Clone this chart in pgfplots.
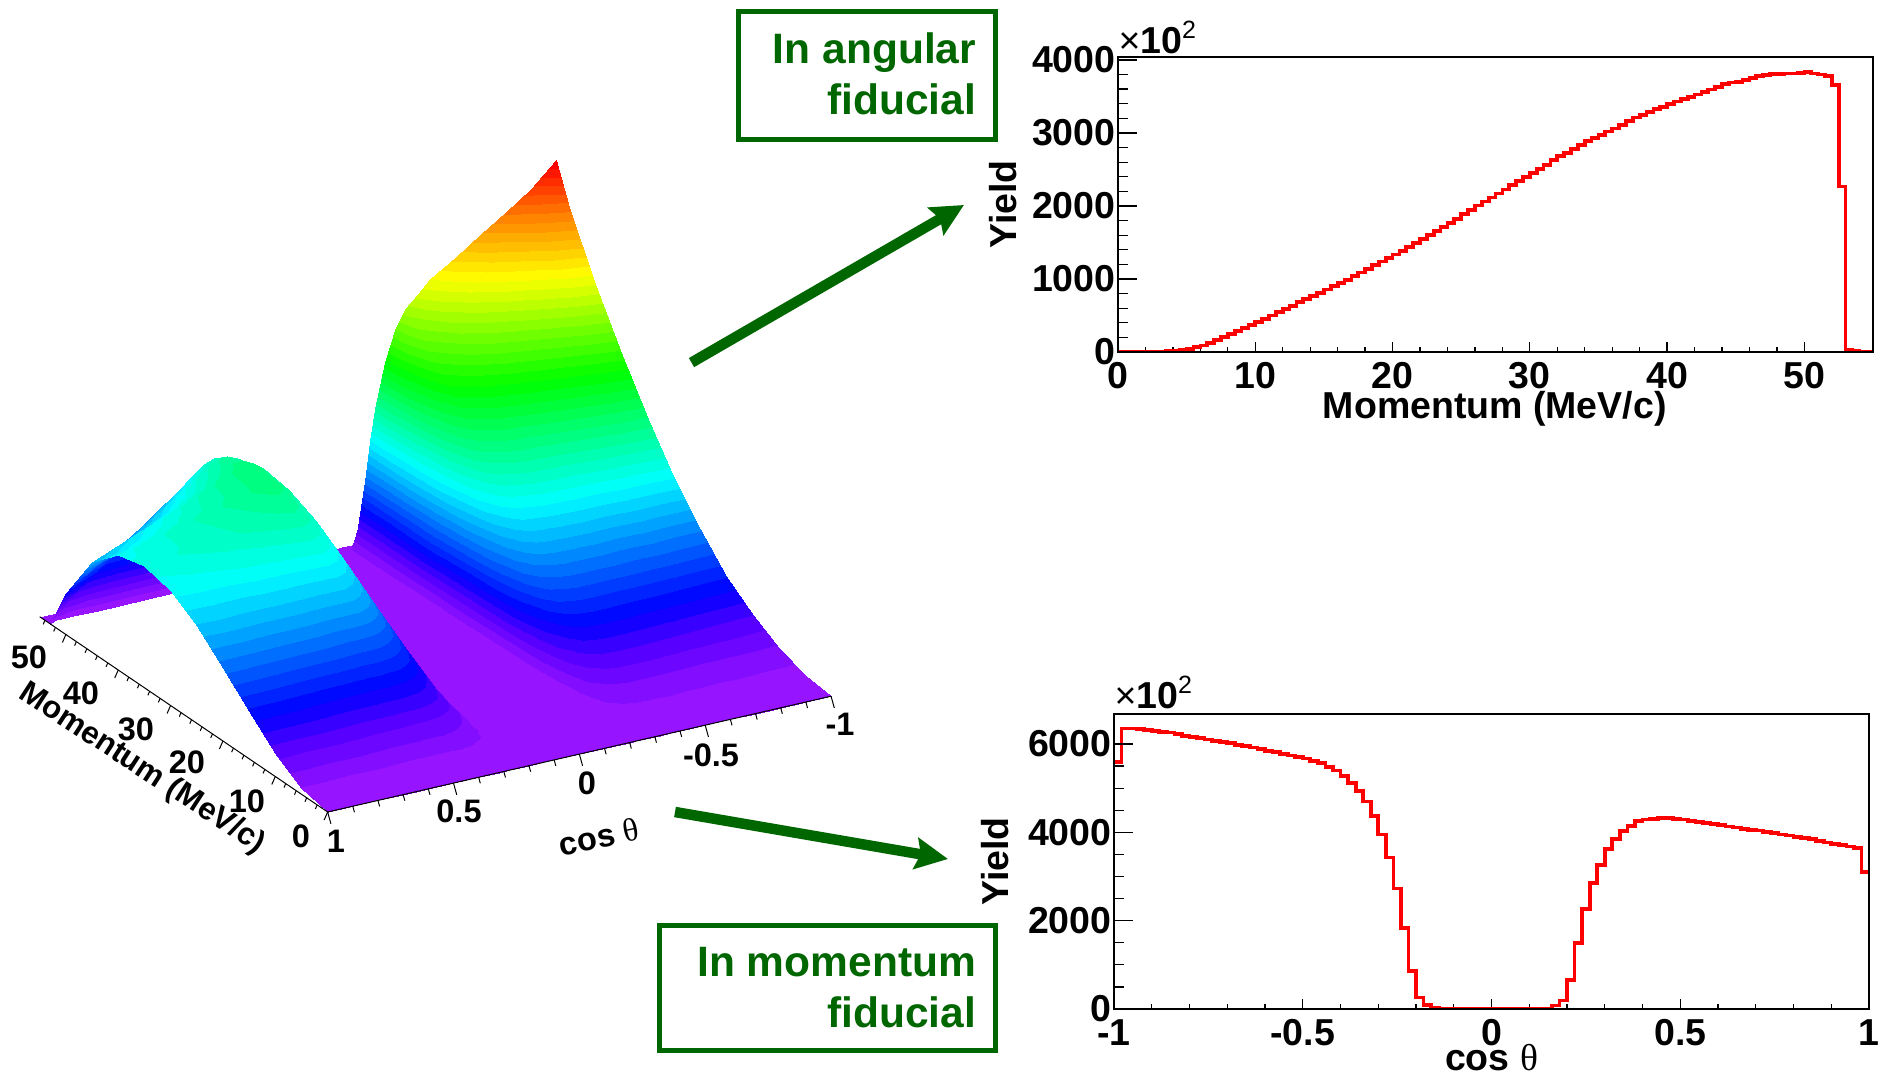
\documentclass[border=0pt]{standalone}
\usepackage{pgfplots}
\usepackage{fontspec}
\setmainfont{Liberation Sans}
\newfontfamily\greekf{Liberation Serif}
\pgfplotsset{compat=1.18}
\usetikzlibrary{arrows.meta}
\definecolor{dgreen}{RGB}{0,102,0}
\pgfplotsset{
 colormap={rootpal}{rgb255(0)=(150,20,255) rgb255(60)=(90,0,255) rgb255(115)=(0,0,255) rgb255(320)=(0,255,255) rgb255(540)=(0,255,0) rgb255(750)=(255,255,0) rgb255(870)=(255,140,0) rgb255(1000)=(255,0,0)},
 colormap={rootbands}{samples of colormap=(50 of rootpal)},
 hist/.style={scale only axis,width=302pt,height=118pt,axis line style={black,line width=.5pt},
  tick style={black,line width=.5pt},tick align=inside,xtick pos=bottom,ytick pos=left,
  tick label style={font=\bfseries\fontsize{15}{15}\selectfont,inner sep=0pt},
  xticklabel style={yshift=-4pt},yticklabel style={xshift=-.8pt},
  label style={font=\bfseries\fontsize{15}{15}\selectfont,inner sep=0pt},
  clip mode=individual},
}
\begin{document}
\begin{tikzpicture}
\path[use as bounding box,x=.4pt,y=-.4pt] (0,0) rectangle (1889,1077);
% ---------- 3D surface
\begin{axis}[anchor=origin,at={(231.74pt,-301.64pt)},
 x={(-100.68pt,-23.16pt)},y={(-2.094pt,1.42pt)},z={(0pt,.14pt)},
 axis lines=none,clip=false,
 xmin=-1,xmax=1,ymin=0,ymax=55,zmin=0,zmax=1000,
 colormap name=rootbands,colormap access=piecewise constant,
 point meta min=0,point meta max=1000]
\addplot3[surf,shader=interp,z buffer=none,mesh/ordering=x varies,mesh/rows=15,mesh/cols=33] table[x=c,y=p,z=z]{
c p z
-1 55 0
-0.9 55 0
-0.8 55 0
-0.7 55 0
-0.6 55 0
-0.5 55 0
-0.45 55 0
-0.4 55 0
-0.36 55 0
-0.32 55 0
-0.28 55 0
-0.26 55 0
-0.24 55 0
-0.22 55 0
-0.2 55 0
-0.16 55 0
0 55 0
0.16 55 0
0.2 55 0
0.22 55 0
0.24 55 0
0.26 55 0
0.28 55 0
0.32 55 0
0.36 55 0
0.4 55 0
0.45 55 0
0.5 55 0
0.6 55 0
0.7 55 0
0.8 55 0
0.9 55 0
1 55 0
-1 53.5 0
-0.9 53.5 0
-0.8 53.5 0
-0.7 53.5 0
-0.6 53.5 0
-0.5 53.5 0
-0.45 53.5 0
-0.4 53.5 0
-0.36 53.5 0
-0.32 53.5 0
-0.28 53.5 0
-0.26 53.5 0
-0.24 53.5 0
-0.22 53.5 0
-0.2 53.5 0
-0.16 53.5 0
0 53.5 0
0.16 53.5 0
0.2 53.5 0
0.22 53.5 0
0.24 53.5 0
0.26 53.5 0
0.28 53.5 0
0.32 53.5 0
0.36 53.5 0
0.4 53.5 0
0.45 53.5 0
0.5 53.5 0
0.6 53.5 0
0.7 53.5 0
0.8 53.5 0
0.9 53.5 0
1 53.5 0
-1 53 600
-0.9 53 570
-0.8 53 540
-0.7 53 510
-0.6 53 480
-0.5 53 450
-0.45 53 431
-0.4 53 407
-0.36 53 375
-0.32 53 325
-0.28 53 246
-0.26 53 193
-0.24 53 126
-0.22 53 59
-0.2 53 18
-0.16 53 0
0 53 0
0.16 53 0
0.2 53 34
0.22 53 83
0.24 53 135
0.26 53 173
0.28 53 194
0.32 53 217
0.36 53 220
0.4 53 212
0.45 53 195
0.5 53 177
0.6 53 142
0.7 53 106
0.8 53 71
0.9 53 35
1 53 0
-1 52.5 1000
-0.9 52.5 933
-0.8 52.5 885
-0.7 52.5 837
-0.6 52.5 789
-0.5 52.5 741
-0.45 52.5 709
-0.4 52.5 672
-0.36 52.5 619
-0.32 52.5 536
-0.28 52.5 406
-0.26 52.5 319
-0.24 52.5 209
-0.22 52.5 97
-0.2 52.5 30
-0.16 52.5 0
0 52.5 0
0.16 52.5 0
0.2 52.5 57
0.22 52.5 140
0.24 52.5 227
0.26 52.5 292
0.28 52.5 328
0.32 52.5 367
0.36 52.5 374
0.4 52.5 363
0.45 52.5 334
0.5 52.5 306
0.6 52.5 249
0.7 52.5 192
0.8 52.5 136
0.9 52.5 79
1 52.5 22
-1 50 890
-0.9 50 851
-0.8 50 811
-0.7 50 772
-0.6 50 732
-0.5 50 693
-0.45 50 666
-0.4 50 634
-0.36 50 586
-0.32 50 510
-0.28 50 388
-0.26 50 305
-0.24 50 201
-0.22 50 93
-0.2 50 29
-0.16 50 0
0 50 0
0.16 50 0
0.2 50 59
0.22 50 145
0.24 50 236
0.26 50 306
0.28 50 345
0.32 50 392
0.36 50 404
0.4 50 398
0.45 50 375
0.5 50 352
0.6 50 305
0.7 50 258
0.8 50 212
0.9 50 165
1 50 119
-1 45 721
-0.9 45 696
-0.8 45 671
-0.7 45 645
-0.6 45 620
-0.5 45 595
-0.45 45 577
-0.4 45 553
-0.36 45 515
-0.32 45 451
-0.28 45 345
-0.26 45 273
-0.24 45 180
-0.22 45 84
-0.2 45 26
-0.16 45 0
0 45 0
0.16 45 0
0.2 45 59
0.22 45 147
0.24 45 241
0.26 45 315
0.28 45 358
0.32 45 413
0.36 45 434
0.4 45 435
0.45 45 420
0.5 45 405
0.6 45 376
0.7 45 346
0.8 45 316
0.9 45 287
1 45 257
-1 40 570
-0.9 40 555
-0.8 40 541
-0.7 40 526
-0.6 40 512
-0.5 40 497
-0.45 40 485
-0.4 40 468
-0.36 40 439
-0.32 40 386
-0.28 40 298
-0.26 40 236
-0.24 40 156
-0.22 40 73
-0.2 40 23
-0.16 40 0
0 40 0
0.16 40 0
0.2 40 56
0.22 40 139
0.24 40 230
0.26 40 301
0.28 40 344
0.32 40 402
0.36 40 426
0.4 40 433
0.45 40 424
0.5 40 416
0.6 40 398
0.7 40 381
0.8 40 364
0.9 40 347
1 40 330
-1 35 436
-0.9 35 429
-0.8 35 422
-0.7 35 415
-0.6 35 408
-0.5 35 401
-0.45 35 394
-0.4 35 382
-0.36 35 360
-0.32 35 319
-0.28 35 247
-0.26 35 196
-0.24 35 130
-0.22 35 61
-0.2 35 19
-0.16 35 0
0 35 0
0.16 35 0
0.2 35 50
0.22 35 124
0.24 35 206
0.26 35 271
0.28 35 311
0.32 35 365
0.36 35 390
0.4 35 399
0.45 35 395
0.5 35 391
0.6 35 382
0.7 35 374
0.8 35 366
0.9 35 358
1 35 349
-1 30 320
-0.9 30 318
-0.8 30 316
-0.7 30 314
-0.6 30 312
-0.5 30 310
-0.45 30 306
-0.4 30 299
-0.36 30 282
-0.32 30 251
-0.28 30 195
-0.26 30 155
-0.24 30 104
-0.22 30 49
-0.2 30 15
-0.16 30 0
0 30 0
0.16 30 0
0.2 30 42
0.22 30 104
0.24 30 174
0.26 30 229
0.28 30 263
0.32 30 311
0.36 30 334
0.4 30 343
0.45 30 342
0.5 30 341
0.6 30 338
0.7 30 336
0.8 30 333
0.9 30 331
1 30 328
-1 25 223
-0.9 25 223
-0.8 25 224
-0.7 25 224
-0.6 25 225
-0.5 25 226
-0.45 25 224
-0.4 25 220
-0.36 25 208
-0.32 25 186
-0.28 25 145
-0.26 25 116
-0.24 25 77
-0.22 25 36
-0.2 25 11
-0.16 25 0
0 25 0
0.16 25 0
0.2 25 33
0.22 25 82
0.24 25 136
0.26 25 180
0.28 25 207
0.32 25 245
0.36 25 265
0.4 25 273
0.45 25 273
0.5 25 274
0.6 25 275
0.7 25 275
0.8 25 276
0.9 25 277
1 25 277
-1 20 142
-0.9 20 144
-0.8 20 146
-0.7 20 148
-0.6 20 149
-0.5 20 151
-0.45 20 151
-0.4 20 148
-0.36 20 141
-0.32 20 126
-0.28 20 99
-0.26 20 79
-0.24 20 53
-0.22 20 25
-0.2 20 8
-0.16 20 0
0 20 0
0.16 20 0
0.2 20 23
0.22 20 58
0.24 20 97
0.26 20 128
0.28 20 148
0.32 20 176
0.36 20 190
0.4 20 197
0.45 20 198
0.5 20 199
0.6 20 201
0.7 20 203
0.8 20 205
0.9 20 207
1 20 209
-1 15 80
-0.9 15 82
-0.8 15 84
-0.7 15 85
-0.6 15 87
-0.5 15 89
-0.45 15 89
-0.4 15 88
-0.36 15 84
-0.32 15 75
-0.28 15 59
-0.26 15 47
-0.24 15 32
-0.22 15 15
-0.2 15 5
-0.16 15 0
0 15 0
0.16 15 0
0.2 15 14
0.22 15 36
0.24 15 60
0.26 15 80
0.28 15 92
0.32 15 110
0.36 15 119
0.4 15 123
0.45 15 124
0.5 15 125
0.6 15 127
0.7 15 129
0.8 15 132
0.9 15 134
1 15 136
-1 10 36
-0.9 10 37
-0.8 10 38
-0.7 10 39
-0.6 10 40
-0.5 10 41
-0.45 10 41
-0.4 10 41
-0.36 10 39
-0.32 10 35
-0.28 10 28
-0.26 10 22
-0.24 10 15
-0.22 10 7
-0.2 10 2
-0.16 10 0
0 10 0
0.16 10 0
0.2 10 7
0.22 10 17
0.24 10 29
0.26 10 39
0.28 10 45
0.32 10 53
0.36 10 58
0.4 10 60
0.45 10 61
0.5 10 62
0.6 10 63
0.7 10 64
0.8 10 66
0.9 10 67
1 10 68
-1 5 9
-0.9 5 9
-0.8 5 10
-0.7 5 10
-0.6 5 10
-0.5 5 11
-0.45 5 11
-0.4 5 11
-0.36 5 10
-0.32 5 9
-0.28 5 7
-0.26 5 6
-0.24 5 4
-0.22 5 2
-0.2 5 1
-0.16 5 0
0 5 0
0.16 5 0
0.2 5 2
0.22 5 5
0.24 5 8
0.26 5 10
0.28 5 12
0.32 5 15
0.36 5 16
0.4 5 16
0.45 5 17
0.5 5 17
0.6 5 17
0.7 5 18
0.8 5 18
0.9 5 19
1 5 19
-1 0 0
-0.9 0 0
-0.8 0 0
-0.7 0 0
-0.6 0 0
-0.5 0 0
-0.45 0 0
-0.4 0 0
-0.36 0 0
-0.32 0 0
-0.28 0 0
-0.26 0 0
-0.24 0 0
-0.22 0 0
-0.2 0 0
-0.16 0 0
0 0 0
0.16 0 0
0.2 0 0
0.22 0 0
0.24 0 0
0.26 0 0
0.28 0 0
0.32 0 0
0.36 0 0
0.4 0 0
0.45 0 0
0.5 0 0
0.6 0 0
0.7 0 0
0.8 0 0
0.9 0 0
1 0 0
};
\draw[black,line width=.4pt] (axis cs:1,0,0)--(axis cs:-1,0,0);
\draw[black,line width=.4pt] (axis cs:1,0,0)--(axis cs:1,55,0);
\pgfplotsinvokeforeach{-1,-0.5,0,0.5,1}{\draw[black,line width=.4pt] (axis cs:#1,0,0)--++(1.3pt,-4.7pt);}
\pgfplotsinvokeforeach{-0.9,-0.8,-0.7,-0.6,-0.4,-0.3,-0.2,-0.1,0.1,0.2,0.3,0.4,0.6,0.7,0.8,0.9}{\draw[black,line width=.4pt] (axis cs:#1,0,0)--++(.65pt,-2.4pt);}
\pgfplotsinvokeforeach{0,10,20,30,40,50}{\draw[black,line width=.4pt] (axis cs:1,#1,0)--++(-1.4pt,-3.2pt);}
\pgfplotsinvokeforeach{2,4,6,8,12,14,16,18,22,24,26,28,32,34,36,38,42,44,46,48,52,54}{\draw[black,line width=.4pt] (axis cs:1,#1,0)--++(-.7pt,-1.6pt);}
\end{axis}
\begin{scope}[x=.4pt,y=-.4pt,every node/.style={inner sep=0pt,font=\bfseries\fontsize{13}{13}\selectfont}]
\node at (29,657) {50};
\node at (81,693) {40};
\node at (136,729) {30};
\node at (187,762) {20};
\node at (247,801) {10};
\node at (301,836) {0};
\node at (336,841) {1};
\node at (459,811) {0.5};
\node at (587,783) {0};
\node at (711,755) {-0.5};
\node at (840,724) {-1};
\node[rotate=-33,font=\bfseries\fontsize{12.5}{12.5}\selectfont] at (142,769) {Momentum (MeV/c)};
\node[rotate=12] at (599,837) {cos {\greekf\mdseries θ}};
\end{scope}
% ---------- top histogram
\begin{axis}[hist,anchor=south west,at={(447.2pt,-140.8pt)},xmin=0,xmax=55,ymin=0,ymax=4040,
 xtick={0,10,20,30,40,50},xticklabels={0,10,20,30,40,50},minor x tick num=4,ytick=\empty,major tick length=4pt,minor tick length=2pt,
 xlabel={Momentum (MeV/c)},xlabel style={at={(axis description cs:.499,-.224)},anchor=base},
 ylabel={Yield},ylabel style={at={(axis description cs:-.134,.5)},anchor=base}]
\addplot[red,line width=1.5pt,const plot] coordinates {
(0,5)(0.5,5)(1,5)(1.5,5)(2,5)(2.5,5)(3,8)(3.5,10)(4,15)(4.5,25)(5,40)(5.5,65)(6,90)(6.5,125)(7,160)(7.5,205)(8,245)(8.5,285)(9,330)(9.5,370)
(10,415)(10.5,455)(11,500)(11.5,545)(12,590)(12.5,635)(13,680)(13.5,725)(14,770)(14.5,810)(15,855)(15.5,900)(16,945)(16.5,990)(17,1040)(17.5,1090)(18,1140)(18.5,1190)(19,1240)(19.5,1285)
(20,1335)(20.5,1385)(21,1440)(21.5,1495)(22,1550)(22.5,1600)(23,1655)(23.5,1710)(24,1765)(24.5,1825)(25,1885)(25.5,1945)(26,2005)(26.5,2060)(27,2115)(27.5,2170)(28,2225)(28.5,2285)(29,2340)(29.5,2395)
(30,2450)(30.5,2510)(31,2565)(31.5,2625)(32,2680)(32.5,2730)(33,2785)(33.5,2835)(34,2885)(34.5,2930)(35,2975)(35.5,3020)(36,3060)(36.5,3110)(37,3160)(37.5,3210)(38,3250)(38.5,3290)(39,3325)(39.5,3360)
(40,3395)(40.5,3430)(41,3460)(41.5,3495)(42,3525)(42.5,3560)(43,3595)(43.5,3630)(44,3665)(44.5,3690)(45,3700)(45.5,3725)(46,3750)(46.5,3775)(47,3790)(47.5,3805)(48,3810)(48.5,3815)(49,3815)(49.5,3825)
(50,3830)(50.5,3815)(51,3800)(51.5,3780)(52,3660)(52.5,2265)(53,30)(53.5,15)(54,5)(54.5,5)(55,5)};
\draw[black,line width=.9pt] (rel axis cs:0,1)--(rel axis cs:1,1);
\node[anchor=base west,inner sep=0pt,font=\fontsize{15}{15}\selectfont] at (axis description cs:0,1.012) {×\textbf{10}\raisebox{6pt}{\fontsize{10}{10}\selectfont 2}};
\end{axis}
\begin{axis}[hist,anchor=south west,at={(447.2pt,-140.8pt)},xmin=0,xmax=55,ymin=0,ymax=4040,
 ytick={0,1000,2000,3000,4000},yticklabels={0,1000,2000,3000,4000},minor y tick num=4,xtick=\empty,major tick length=7.6pt,minor tick length=3.8pt]
\end{axis}
% ---------- bottom histogram
\begin{axis}[hist,anchor=south west,at={(445.6pt,-403.6pt)},xmin=-1,xmax=1,ymin=0,ymax=6680,
 xtick={-1,-0.5,0,0.5,1},xticklabels={-1,-0.5,0,0.5,1},minor x tick num=4,ytick=\empty,major tick length=4pt,minor tick length=2pt,
 xlabel={cos {\greekf\mdseries θ}},xlabel style={at={(axis description cs:.5,-.207)},anchor=base},
 ylabel={Yield},ylabel style={at={(axis description cs:-.14,.5)},anchor=base}]
\addplot[red,line width=1.5pt,const plot] coordinates {
(-1,5600)(-0.98,6350)(-0.96,6350)(-0.94,6340)(-0.92,6310)(-0.90,6300)(-0.88,6280)(-0.86,6260)(-0.84,6230)(-0.82,6190)
(-0.80,6160)(-0.78,6130)(-0.76,6100)(-0.74,6070)(-0.72,6050)(-0.70,6020)(-0.68,5980)(-0.66,5950)(-0.64,5920)(-0.62,5890)
(-0.60,5850)(-0.58,5820)(-0.56,5780)(-0.54,5740)(-0.52,5700)(-0.50,5670)(-0.48,5620)(-0.46,5570)(-0.44,5480)(-0.42,5400)
(-0.40,5275)(-0.38,5120)(-0.36,4930)(-0.34,4700)(-0.32,4370)(-0.30,3950)(-0.28,3430)(-0.26,2730)(-0.24,1830)(-0.22,860)
(-0.20,260)(-0.18,90)(-0.16,15)(-0.14,5)(-0.12,0)(-0.10,0)(-0.08,0)(-0.06,0)(-0.04,0)(-0.02,0)
(0,0)(0.02,0)(0.04,0)(0.06,0)(0.08,0)(0.10,5)(0.12,5)(0.14,10)(0.16,80)(0.18,195)
(0.20,660)(0.22,1490)(0.24,2270)(0.26,2850)(0.28,3260)(0.30,3625)(0.32,3850)(0.34,4030)(0.36,4150)(0.38,4250)
(0.40,4290)(0.42,4310)(0.44,4320)(0.46,4320)(0.48,4310)(0.50,4290)(0.52,4250)(0.54,4240)(0.56,4220)(0.58,4190)
(0.60,4160)(0.62,4130)(0.64,4110)(0.66,4070)(0.68,4060)(0.70,4040)(0.72,4010)(0.74,3990)(0.76,3950)(0.78,3930)
(0.80,3900)(0.82,3880)(0.84,3850)(0.86,3810)(0.88,3770)(0.90,3730)(0.92,3710)(0.94,3680)(0.96,3650)(0.98,3100)(1,3100)};
\draw[black,line width=.9pt] (rel axis cs:0,1)--(rel axis cs:1,1);
\node[anchor=base west,inner sep=0pt,font=\fontsize{15}{15}\selectfont] at (axis description cs:0,1.02) {×\textbf{10}\raisebox{6pt}{\fontsize{10}{10}\selectfont 2}};
\end{axis}
\begin{axis}[hist,anchor=south west,at={(445.6pt,-403.6pt)},xmin=-1,xmax=1,ymin=0,ymax=6680,
 ytick={0,2000,4000,6000},yticklabels={0,2000,4000,6000},minor y tick num=3,xtick=\empty,major tick length=7.6pt,minor tick length=3.8pt]
\end{axis}
% ---------- boxes and arrows
\begin{scope}[x=.4pt,y=-.4pt]
\draw[dgreen,line width=2pt] (738.7,12) rectangle (995.5,139.3);
\draw[dgreen,line width=2pt] (659.5,925.5) rectangle (995.5,1051);
\node[dgreen,anchor=base east,inner sep=0pt,font=\bfseries\fontsize{17}{17}\selectfont] at (976.5,64) {In angular};
\node[dgreen,anchor=base east,inner sep=0pt,font=\bfseries\fontsize{17}{17}\selectfont] at (976.5,114.5) {fiducial};
\node[dgreen,anchor=base east,inner sep=0pt,font=\bfseries\fontsize{17}{17}\selectfont] at (976.5,977) {In momentum};
\node[dgreen,anchor=base east,inner sep=0pt,font=\bfseries\fontsize{17}{17}\selectfont] at (976.5,1028) {fiducial};
\draw[dgreen,line width=4.2pt,-{Stealth[length=13pt,width=12.5pt,inset=2pt]}] (691.5,362.6)--(964,205);
\draw[dgreen,line width=4.2pt,-{Stealth[length=13pt,width=12.5pt,inset=2pt]}] (675,812)--(948,859);
\end{scope}
\end{tikzpicture}
\end{document}
